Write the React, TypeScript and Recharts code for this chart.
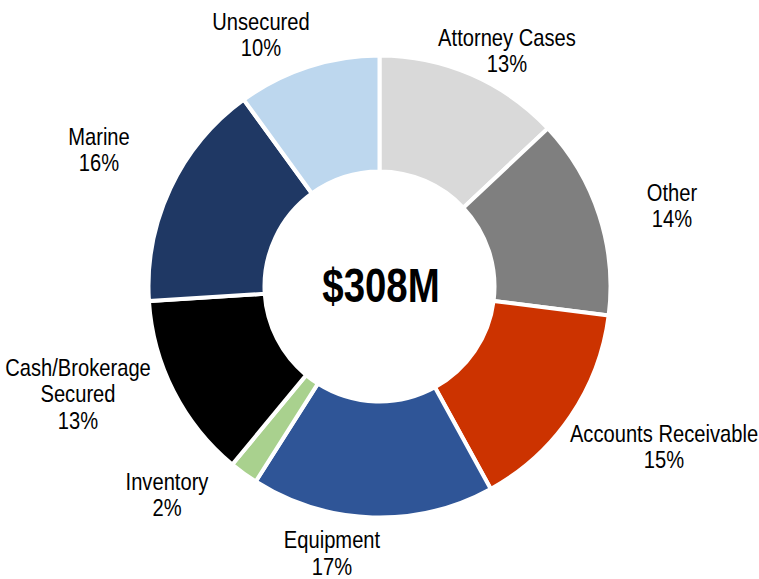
import { PieChart, Pie, Cell } from 'recharts';

// portfolio mix, clockwise from 12 o'clock
const categories = [
  'Attorney Cases',
  'Other',
  'Accounts Receivable',
  'Equipment',
  'Inventory',
  'Cash/Brokerage Secured',
  'Marine',
  'Unsecured',
];
const shares = [13, 14, 15, 17, 2, 13, 16, 10];
const totalLabel = '$308M';

const colors = ['#d9d9d9', '#7f7f7f', '#cc3300', '#2f5597', '#a9d18e', '#000000', '#1f3864', '#bdd7ee'];

// label block centre relative to the pie centre, and line breaks for each label
const labelOffsets: [number, number][] = [
  [127.5, -236],
  [292.5, -81],
  [284.5, 160],
  [-47.5, 266.5],
  [-212.5, 208],
  [-301.5, 107],
  [-280.5, -137],
  [-118.5, -252],
];
const labelLines: string[][] = [
  ['Attorney Cases'],
  ['Other'],
  ['Accounts Receivable'],
  ['Equipment'],
  ['Inventory'],
  ['Cash/Brokerage', 'Secured'],
  ['Marine'],
  ['Unsecured'],
];

// no Arial Narrow available, so squeeze Liberation Sans horizontally
const FONT = '"Liberation Sans", Arial, sans-serif';
const SQUEEZE = 0.84;
const LINE = 26.5;

const narrow = (x: number, s = SQUEEZE) => `matrix(${s} 0 0 1 ${x * (1 - s)} 0)`;

const data = categories.map((name, i) => ({ name, value: shares[i] }));

function renderLabel(props: any) {
  const { cx, cy, index, value } = props;
  const [dx, dy] = labelOffsets[index];
  const lines = [...labelLines[index], `${value}%`];
  const x = cx + dx;
  const top = cy + dy - ((lines.length - 1) * LINE) / 2;
  return (
    <text
      key={`lbl-${index}`}
      x={x}
      y={top}
      transform={narrow(x)}
      textAnchor="middle"
      dominantBaseline="central"
      fontFamily={FONT}
      fontSize={24}
      fill="#000"
    >
      {lines.map((l, j) => (
        <tspan key={j} x={x} y={top + j * LINE} dominantBaseline="central">
          {l}
        </tspan>
      ))}
    </text>
  );
}

export default function App() {
  return (
    <div style={{ position: 'absolute', left: 0, top: 0, width: 759, height: 579, background: '#fff' }}>
      <PieChart width={759} height={579} margin={{ top: 0, right: 0, bottom: 0, left: 0 }}>
        <Pie
          data={data}
          dataKey="value"
          nameKey="name"
          cx={379.5}
          cy={286.5}
          innerRadius={115}
          outerRadius={231}
          startAngle={90}
          endAngle={-270}
          stroke="#ffffff"
          strokeWidth={4}
          label={renderLabel}
          labelLine={false}
          isAnimationActive={false}
        >
          {data.map((d, i) => (
            <Cell key={d.name} fill={colors[i]} />
          ))}
        </Pie>
        <text
          x={381}
          y={285}
          transform={narrow(381, 0.8)}
          textAnchor="middle"
          dominantBaseline="central"
          fontFamily={FONT}
          fontWeight="bold"
          fontSize={48}
          fill="#000"
        >
          {totalLabel}
        </text>
      </PieChart>
    </div>
  );
}
